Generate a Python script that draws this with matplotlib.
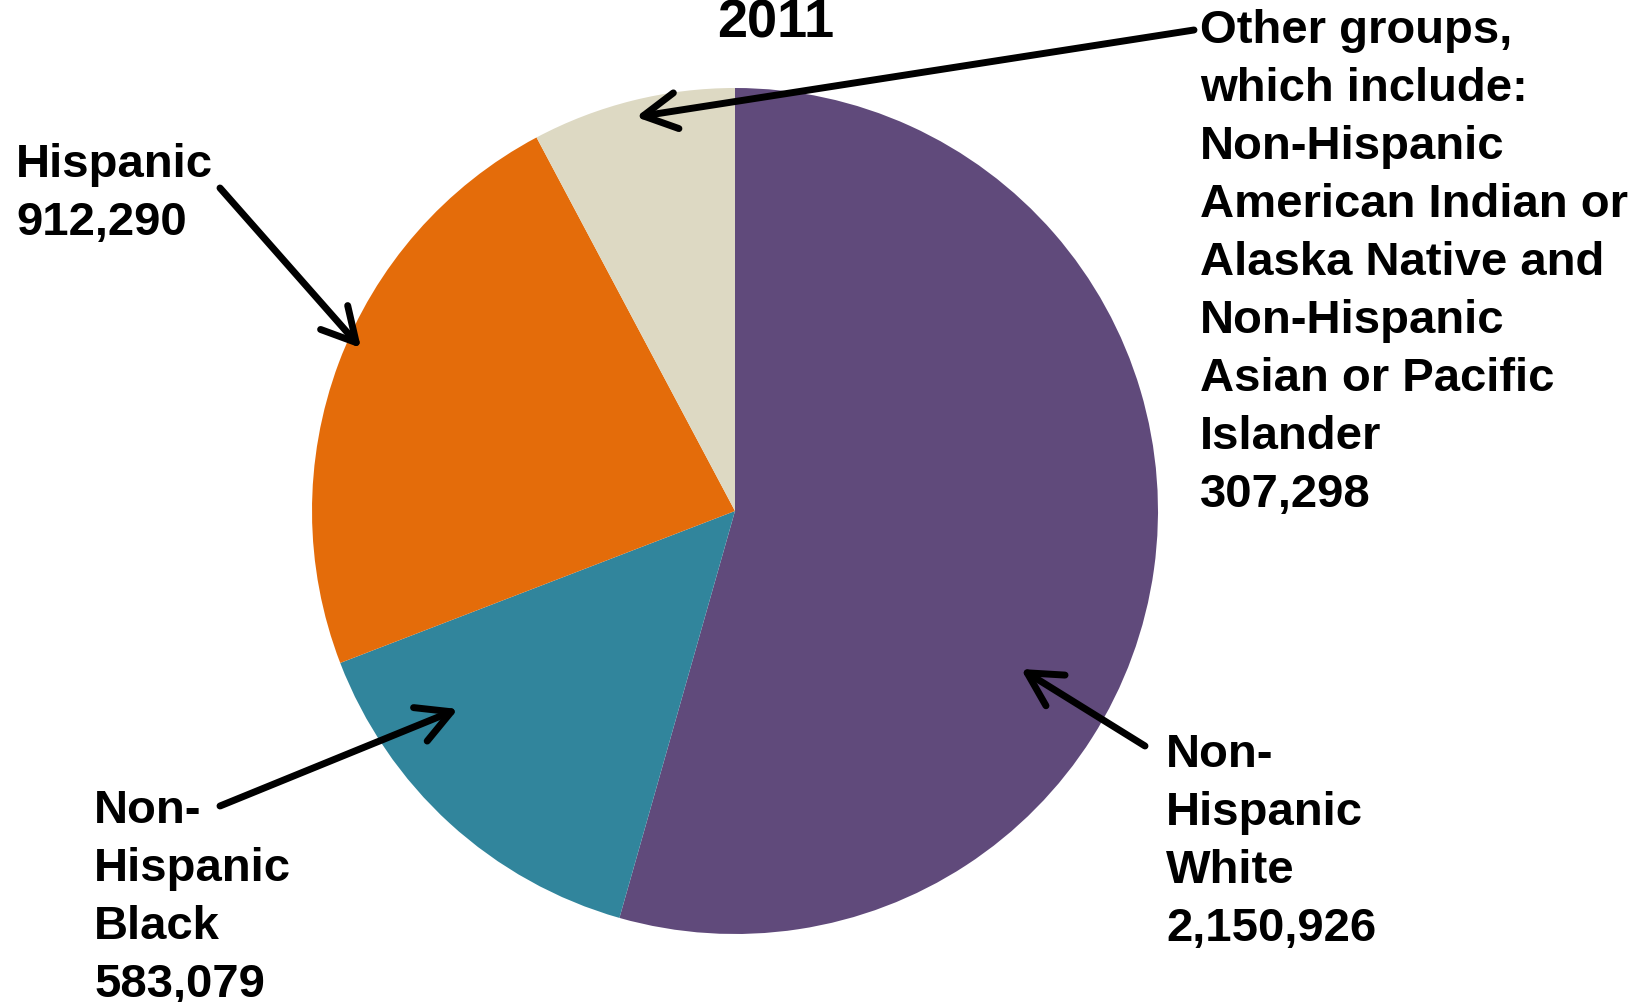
import matplotlib
matplotlib.use('Agg')
import matplotlib.pyplot as plt
from matplotlib.patches import FancyArrowPatch

plt.rcParams['font.family'] = ['Liberation Sans', 'DejaVu Sans']

# data
groups = ['Non-Hispanic White', 'Non-Hispanic Black', 'Hispanic', 'Other groups']
counts = [2150926, 583079, 912290, 307298]
colors = ['#604A7B', '#31859C', '#E46C0A', '#DDD9C3']
labels = ['Non-\nHispanic\nWhite\n2,150,926',
          'Non-\nHispanic\nBlack\n583,079',
          'Hispanic\n912,290',
          'Other groups,\nwhich include:\nNon-Hispanic\nAmerican Indian or\nAlaska Native and\nNon-Hispanic\nAsian or Pacific\nIslander\n307,298']

W, H = 1643, 1003
def Y(y):
    return H - y

fig = plt.figure(figsize=(W/100, H/100), dpi=100)
ax = fig.add_axes([0, 0, 1, 1])

ax.pie(counts, colors=colors, startangle=90, counterclock=False,
       center=(735, Y(512)), radius=423, frame=True,
       wedgeprops=dict(linewidth=0))
ax.set_xlim(0, W)
ax.set_ylim(0, H)
ax.set_aspect('equal')
ax.axis('off')

ax.text(776, Y(37), '2011', fontsize=39, fontweight='bold', ha='center', va='baseline')

# label text: (x left, y centre)
label_pos = [(1166, 842), (94, 898), (16, 194), (1200, 263)]
for lab, (x, y) in zip(labels, label_pos):
    ax.text(x, Y(y), lab, fontsize=34, fontweight='bold', ha='left', va='center',
            linespacing=1.41)

# arrows: tail -> head
arrows = [((1145, 747), (1021, 670)),
          ((220, 807), (458, 710)),
          ((220, 189), (361, 349)),
          ((1194, 31), (636, 118))]
for (x0, y0), (x1, y1) in arrows:
    a = FancyArrowPatch((x0, Y(y0)), (x1, Y(y1)),
                        arrowstyle='->,head_length=1.2,head_width=0.65',
                        mutation_scale=20, lw=5, color='black',
                        capstyle='round', joinstyle='round',
                        shrinkA=0, shrinkB=0)
    ax.add_patch(a)

plt.savefig('out.png', dpi=100)
